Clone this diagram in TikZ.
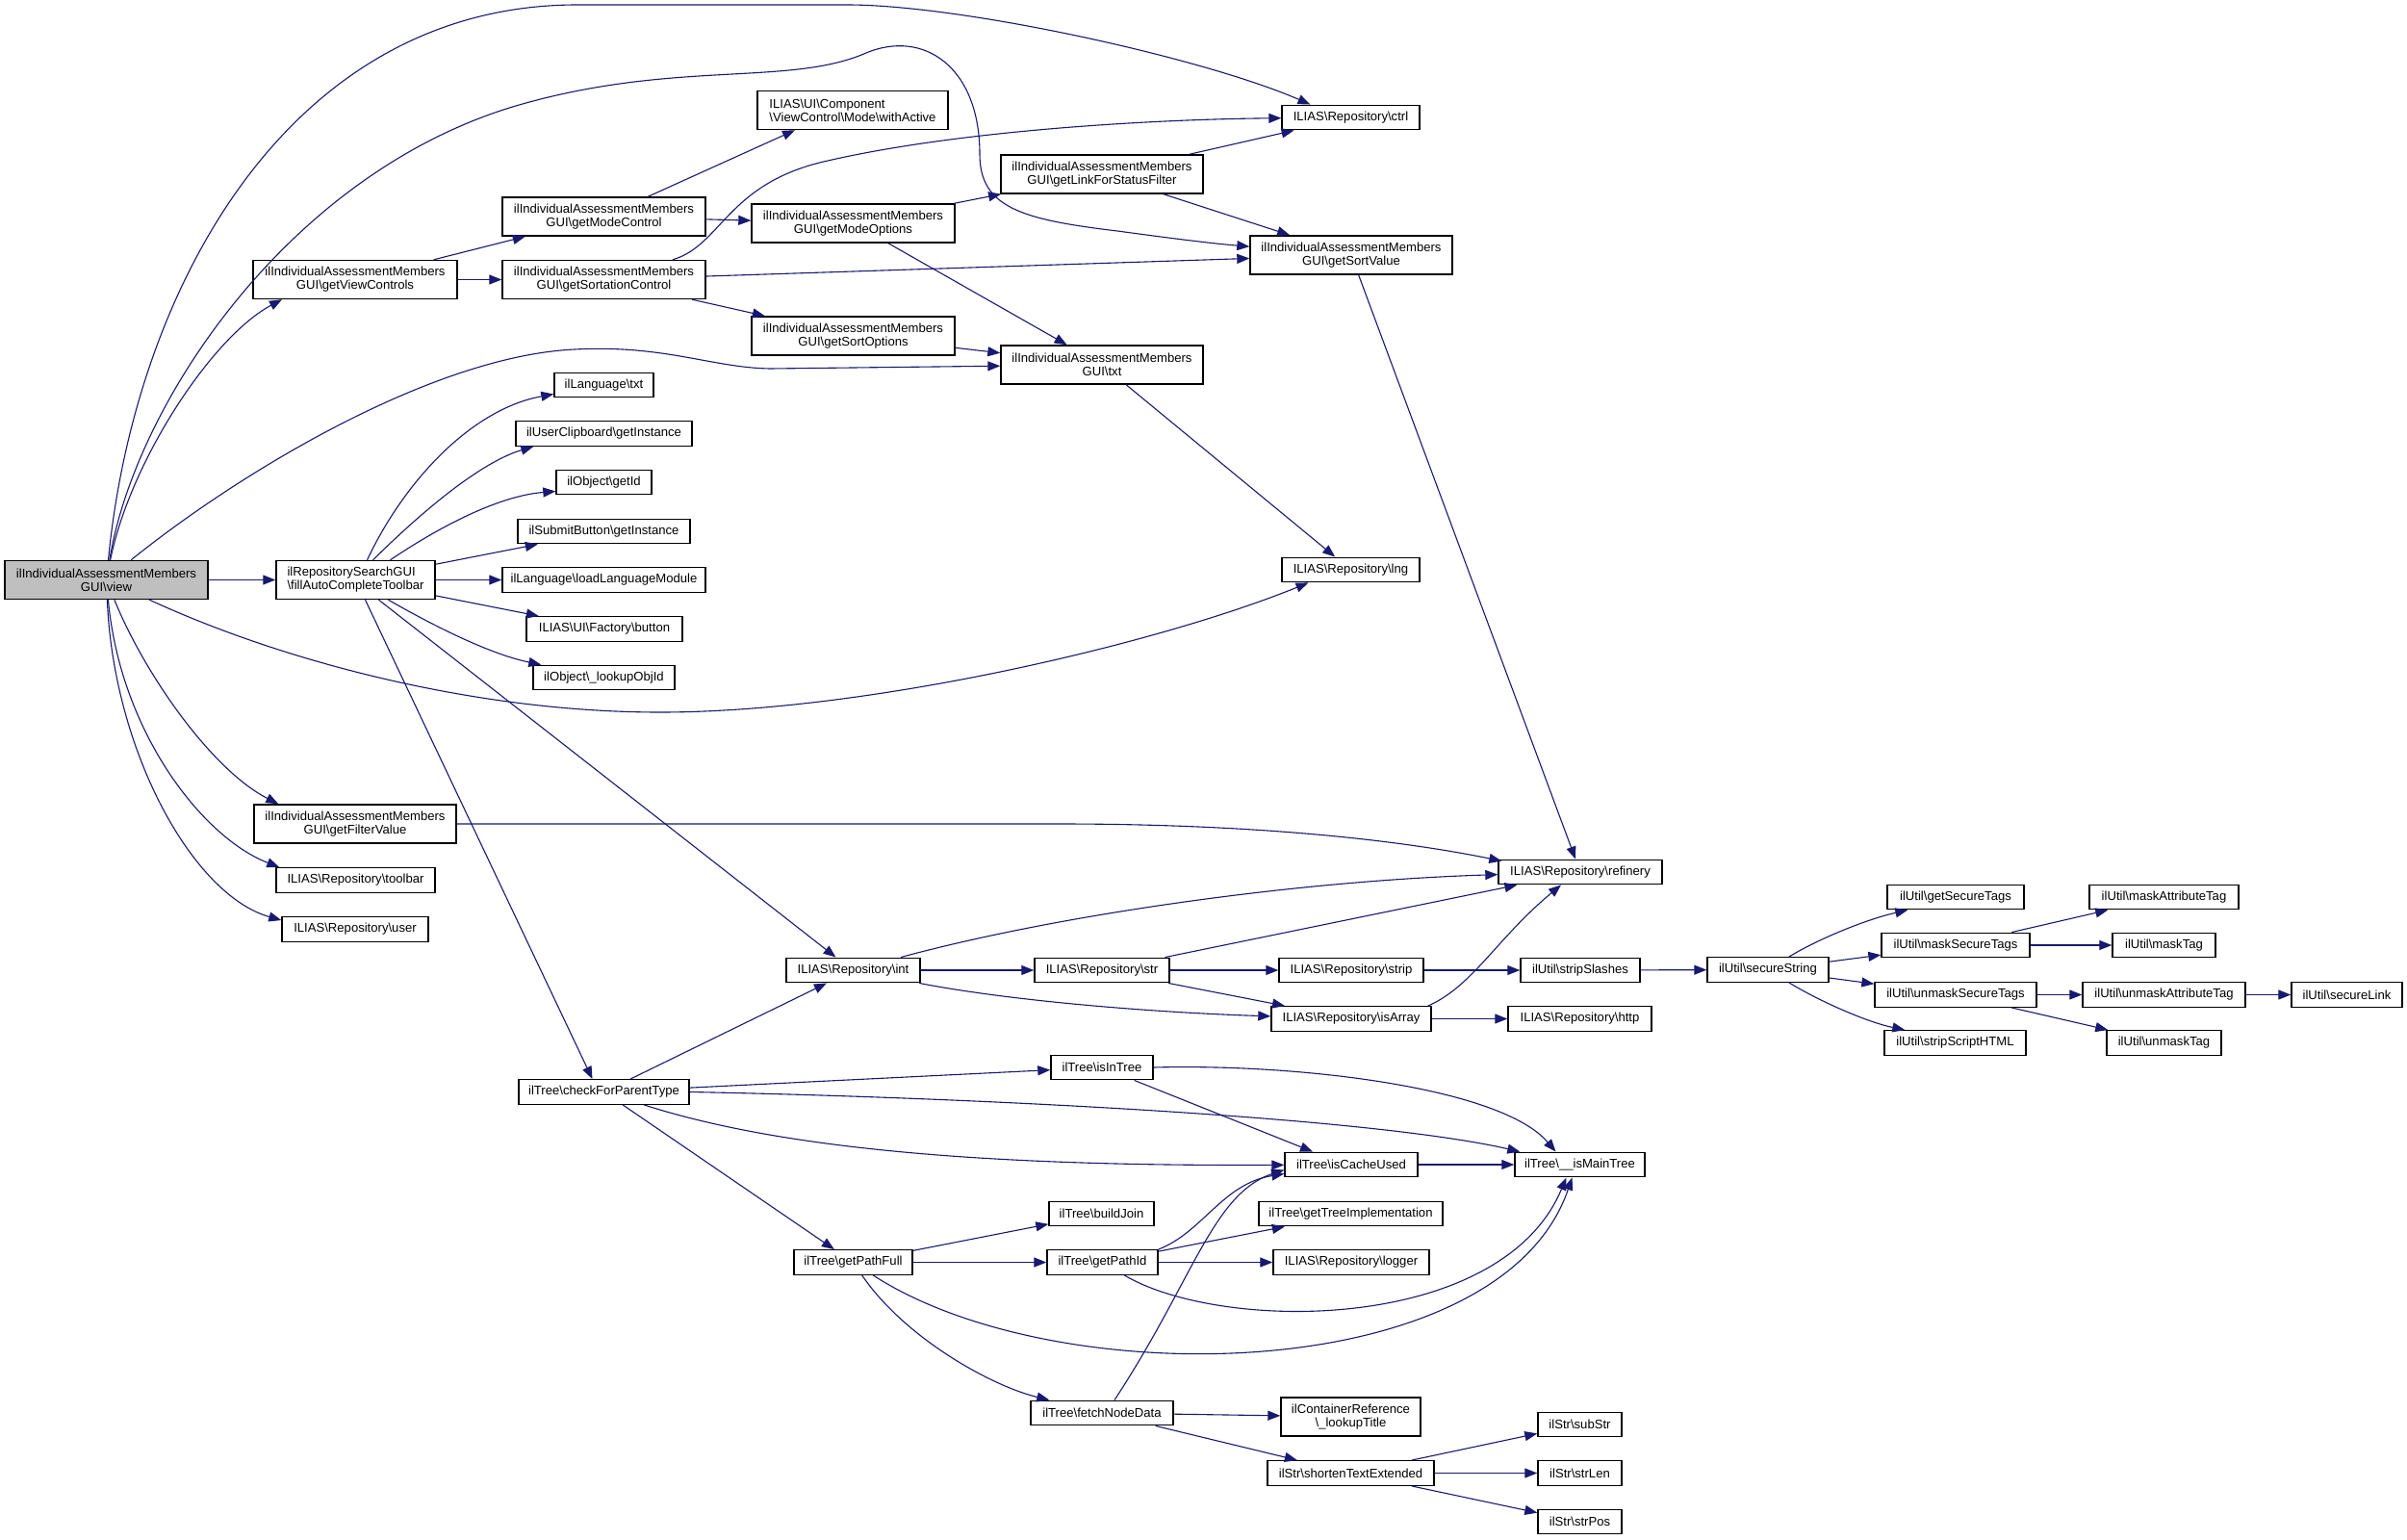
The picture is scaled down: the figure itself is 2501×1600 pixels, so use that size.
\documentclass[tikz,border=0pt]{standalone}
\usepackage{fontspec}
\setmainfont{Liberation Sans}
\usetikzlibrary{arrows.meta}
\definecolor{edgeblue}{HTML}{191970}
\definecolor{viewgray}{HTML}{BFBFBF}
\newcommand\bsl{\textbackslash}
\newcommand\nodefont{\fontsize{6.55pt}{7pt}\selectfont}
\begin{document}
\begin{tikzpicture}[x=0.5pt,y=-0.5pt,
 box/.style={draw=black, line width=0.7pt, fill=white, font=\nodefont, inner xsep=1pt, inner ysep=0pt, minimum height=12.75pt},
 two/.style={box, align=center, minimum height=20pt},
 twol/.style={box, align=left, minimum height=20pt},
 edge/.style={draw=edgeblue, line width=0.55pt, -{Triangle[length=6.5pt,width=5pt]}}]
\useasboundingbox (0,0) rectangle (2501,1600);
\fill[white] (0,0) rectangle (2501,1600);
% nodes
\node[two, fill=viewgray, minimum width=105.5pt] (view) at (110.5,602.5) {ilIndividualAssessmentMembers\\GUI\bsl view};
\node[twol, minimum width=82.5pt] (fac) at (369.5,602.5) {ilRepositorySearchGUI\\\bsl fillAutoCompleteToolbar};
\node[two, minimum width=105pt] (gfv) at (369,856) {ilIndividualAssessmentMembers\\GUI\bsl getFilterValue};
\node[box, minimum width=82.5pt] (toolbar) at (369.5,914.5) {ILIAS\bsl Repository\bsl toolbar};
\node[box, minimum width=76pt] (user) at (369,965.5) {ILIAS\bsl Repository\bsl user};
\node[two, minimum width=106pt] (gvc) at (369,290.5) {ilIndividualAssessmentMembers\\GUI\bsl getViewControls};
\node[two, minimum width=105.5pt] (gmc) at (627.5,225) {ilIndividualAssessmentMembers\\GUI\bsl getModeControl};
\node[two, minimum width=105.5pt] (gsc) at (627.5,290.5) {ilIndividualAssessmentMembers\\GUI\bsl getSortationControl};
\node[twol, minimum width=99pt] (wa) at (886,114.5) {ILIAS\bsl UI\bsl Component\\\bsl ViewControl\bsl Mode\bsl withActive};
\node[box, minimum width=71.5pt] (ctrl) at (1403.5,122) {ILIAS\bsl Repository\bsl ctrl};
\node[two, minimum width=105pt] (glf) at (1145,181) {ilIndividualAssessmentMembers\\GUI\bsl getLinkForStatusFilter};
\node[two, minimum width=105.5pt] (gmo) at (886.5,232) {ilIndividualAssessmentMembers\\GUI\bsl getModeOptions};
\node[two, minimum width=105pt] (gsv) at (1404,265) {ilIndividualAssessmentMembers\\GUI\bsl getSortValue};
\node[two, minimum width=105.5pt] (gso) at (886.5,349) {ilIndividualAssessmentMembers\\GUI\bsl getSortOptions};
\node[two, minimum width=105pt] (gtxt) at (1145,379) {ilIndividualAssessmentMembers\\GUI\bsl txt};
\node[box, minimum width=51.5pt] (lngtxt) at (627.5,400) {ilLanguage\bsl txt};
\node[box, minimum width=91.5pt] (clip) at (627.5,450.5) {ilUserClipboard\bsl getInstance};
\node[box, minimum width=49.5pt] (getid) at (627.5,501) {ilObject\bsl getId};
\node[box, minimum width=89.5pt] (submit) at (627.5,552) {ilSubmitButton\bsl getInstance};
\node[box, minimum width=105.5pt] (loadlang) at (627.5,602.5) {ilLanguage\bsl loadLanguageModule};
\node[box, minimum width=81pt] (button) at (628,653.5) {ILIAS\bsl UI\bsl Factory\bsl button};
\node[box, minimum width=73.5pt] (lookupobj) at (627.5,704) {ilObject\bsl\_lookupObjId};
\node[box, minimum width=71.5pt] (lng) at (1403.5,592) {ILIAS\bsl Repository\bsl lng};
\node[box, minimum width=85pt] (ref) at (1642,906) {ILIAS\bsl Repository\bsl refinery};
\node[box, minimum width=69.5pt] (int) at (886.5,1008) {ILIAS\bsl Repository\bsl int};
\node[box, minimum width=70pt] (str) at (1145,1008) {ILIAS\bsl Repository\bsl str};
\node[box, minimum width=75pt] (strip) at (1404,1008) {ILIAS\bsl Repository\bsl strip};
\node[box, minimum width=62pt] (stripsl) at (1642,1008) {ilUtil\bsl stripSlashes};
\node[box, minimum width=83pt] (isarray) at (1404,1058.5) {ILIAS\bsl Repository\bsl isArray};
\node[box, minimum width=74.5pt] (http) at (1641.5,1058.5) {ILIAS\bsl Repository\bsl http};
\node[box, minimum width=63pt] (ss) at (1837,1007.5) {ilUtil\bsl secureString};
\node[box, minimum width=71pt] (gst) at (2032,932) {ilUtil\bsl getSecureTags};
\node[box, minimum width=77pt] (mst) at (2032,982) {ilUtil\bsl maskSecureTags};
\node[box, minimum width=84pt] (ust) at (2032,1033.5) {ilUtil\bsl unmaskSecureTags};
\node[box, minimum width=73.5pt] (ssh) at (2031.5,1083.5) {ilUtil\bsl stripScriptHTML};
\node[box, minimum width=77.5pt] (mat) at (2248.5,932) {ilUtil\bsl maskAttributeTag};
\node[box, minimum width=53.5pt] (mtag) at (2248.5,982) {ilUtil\bsl maskTag};
\node[box, minimum width=84.5pt] (uat) at (2248.5,1033.5) {ilUtil\bsl unmaskAttributeTag};
\node[box, minimum width=59.5pt] (utag) at (2248.5,1083.5) {ilUtil\bsl unmaskTag};
\node[box, minimum width=57.5pt] (slink) at (2438.5,1033.5) {ilUtil\bsl secureLink};
\node[box, minimum width=88.5pt] (cfp) at (627.5,1134.5) {ilTree\bsl checkForParentType};
\node[box, minimum width=53pt] (iit) at (1145,1109) {ilTree\bsl isInTree};
\node[box, minimum width=69pt] (icu) at (1404,1210) {ilTree\bsl isCacheUsed};
\node[box, minimum width=67.5pt] (imt) at (1641.5,1210) {ilTree\bsl\_\_isMainTree};
\node[box, minimum width=54.5pt] (bj) at (1144.5,1261) {ilTree\bsl buildJoin};
\node[box, minimum width=95.5pt] (gti) at (1403.5,1261) {ilTree\bsl getTreeImplementation};
\node[box, minimum width=61.5pt] (gpf) at (886.5,1311.5) {ilTree\bsl getPathFull};
\node[box, minimum width=57.5pt] (gpi) at (1145.5,1311.5) {ilTree\bsl getPathId};
\node[box, minimum width=81pt] (logger) at (1404,1311.5) {ILIAS\bsl Repository\bsl logger};
\node[box, minimum width=74pt] (fnd) at (1145,1468) {ilTree\bsl fetchNodeData};
\node[two, minimum width=72.5pt] (lt) at (1403.5,1472) {ilContainerReference\\\bsl\_lookupTitle};
\node[box, minimum width=86.5pt] (shorten) at (1403.5,1530.5) {ilStr\bsl shortenTextExtended};
\node[box, minimum width=43.5pt] (substr) at (1641.5,1480) {ilStr\bsl subStr};
\node[box, minimum width=43.5pt] (strlen) at (1641.5,1530.5) {ilStr\bsl strLen};
\node[box, minimum width=43.5pt] (strpos) at (1641.5,1581) {ilStr\bsl strPos};
% edges from view
\draw[edge] (view) .. controls (140,300) and (300,5) .. (600,5) -- (880,5) .. controls (1000,5) and (1250,60) .. ([xshift=-21pt]ctrl.north);
\draw[edge] (view) .. controls (140,420) and (300,180) .. (536,110) .. controls (700,62) and (820,90) .. (900,55) .. controls (960,30) and (1018,70) .. (1018,160) .. controls (1018,215) and (1060,228) .. (1161,240) .. controls (1220,248) and (1260,253) .. (gsv);
\draw[edge] (view) .. controls (135,480) and (220,350) .. ([xshift=-38pt]gvc.south);
\draw[edge] (view) .. controls (250,490) and (450,370) .. (597,363) .. controls (690,358) and (740,382) .. (800,383) -- (gtxt);
\draw[edge] (view) -- (fac);
\draw[edge] (view) .. controls (300,690) and (500,740) .. (686,740) .. controls (900,740) and (1200,670) .. ([xshift=-22pt]lng.south);
\draw[edge] (view) .. controls (150,700) and (220,800) .. ([xshift=13pt]gfv.north west);
\draw[edge] (view) .. controls (125,760) and (210,870) .. ([xshift=2pt]toolbar.north west);
\draw[edge] (view) .. controls (118,780) and (200,930) .. ([yshift=-2pt]user.north west);
% view controls
\draw[edge] (gvc) -- (gmc);
\draw[edge] (gvc) -- (gsc);
\draw[edge] (gmc) -- ([xshift=-30pt]wa.south);
\draw[edge] (gmc) -- (gmo);
\draw[edge] (gsc) .. controls (750,255) and (755,190) .. (860,167) .. controls (1000,135) and (1200,124) .. (ctrl);
\draw[edge] (gsc) -- (gsv);
\draw[edge] (gsc) -- (gso);
\draw[edge] (gmo) -- (glf);
\draw[edge] (gmo) -- (gtxt);
\draw[edge] (glf) -- (ctrl);
\draw[edge] (glf) -- (gsv);
\draw[edge] (gso) -- (gtxt);
\draw[edge] (gtxt) -- (lng);
\draw[edge] (gsv) -- (ref);
\draw[edge] (gfv) -- (1100,856) .. controls (1300,856) and (1450,872) .. ([xshift=2pt,yshift=-1pt]ref.north west);
% fill auto complete toolbar
\draw[edge] ([xshift=6pt]fac.north) .. controls (420,500) and (490,425) .. (lngtxt);
\draw[edge] ([xshift=9pt]fac.north) .. controls (440,530) and (500,480) .. ([xshift=9.5pt]clip.south west);
\draw[edge] ([xshift=18pt]fac.north) .. controls (460,545) and (520,515) .. ([yshift=2pt]getid.south west);
\draw[edge] (fac) -- (submit);
\draw[edge] (fac) -- (loadlang);
\draw[edge] (fac) -- (button);
\draw[edge] ([xshift=17pt]fac.south) .. controls (450,650) and (510,680) .. ([xshift=4.5pt]lookupobj.north west);
\draw[edge] ([xshift=12pt]fac.south) -- ([xshift=-9pt]int.north);
\draw[edge] ([xshift=5pt]fac.south) -- ([xshift=-6pt]cfp.north);
% repository
\draw[edge] (cfp) -- (int);
\draw[edge] (int) .. controls (1100,950) and (1350,915) .. (ref);
\draw[edge] (int) -- (str);
\draw[edge] (int) .. controls (1050,1040) and (1200,1052) .. (isarray);
\draw[edge] (str) -- (ref);
\draw[edge] (str) -- (strip);
\draw[edge] (str) -- (isarray);
\draw[edge] (strip) -- (stripsl);
\draw[edge] ([xshift=-2pt]isarray.north east) .. controls (1530,1025) and (1555,975) .. ([xshift=-10pt]ref.south);
\draw[edge] (isarray) -- (http);
\draw[edge] (stripsl) -- (ss);
\draw[edge] (ss) .. controls (1890,975) and (1940,955) .. ([xshift=11pt]gst.south west);
\draw[edge] (ss) -- (mst);
\draw[edge] (ss) -- (ust);
\draw[edge] (ss) .. controls (1890,1040) and (1940,1062) .. ([xshift=11pt]ssh.north west);
\draw[edge] (mst) -- (mat);
\draw[edge] (mst) -- (mtag);
\draw[edge] (ust) -- (uat);
\draw[edge] (ust) -- (utag);
\draw[edge] (uat) -- (slink);
% tree
\draw[edge] (cfp) -- (iit);
\draw[edge] (cfp.east) .. controls (1000,1140) and (1420,1160) .. ([xshift=3pt]imt.north west);
\draw[edge] (cfp) .. controls (800,1190) and (1000,1212) .. (icu);
\draw[edge] (cfp) -- (gpf);
\draw[edge] (iit) -- ([xshift=-20pt]icu.north);
\draw[edge] (iit.east) .. controls (1350,1105) and (1560,1130) .. ([xshift=-12.5pt]imt.north);
\draw[edge] (icu) -- (imt);
\draw[edge] (gpf) -- (bj);
\draw[edge] (gpf) -- (gpi);
\draw[edge] (gpf) .. controls (940,1390) and (1030,1440) .. ([xshift=10pt]fnd.north west);
\draw[edge] (gpf) .. controls (1100,1450) and (1560,1440) .. ([xshift=-4pt]imt.south);
\draw[edge] (gpi.north east) .. controls (1250,1280) and (1270,1230) .. ([yshift=2pt]icu.south west);
\draw[edge] (gpi) -- (gti);
\draw[edge] (gpi) -- (logger);
\draw[edge] (gpi) .. controls (1270,1385) and (1560,1385) .. ([xshift=-7pt]imt.south);
\draw[edge] ([xshift=6.5pt]fnd.north) .. controls (1240,1330) and (1260,1240) .. ([yshift=4pt]icu.south west);
\draw[edge] (fnd) -- (lt);
\draw[edge] (fnd) -- (shorten);
\draw[edge] (shorten) -- (substr);
\draw[edge] (shorten) -- (strlen);
\draw[edge] (shorten) -- (strpos);
\end{tikzpicture}
\end{document}
